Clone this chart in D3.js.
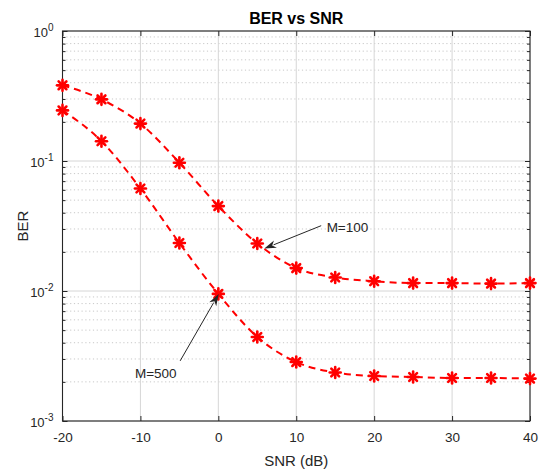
<!DOCTYPE html>
<html>
<head>
<meta charset="utf-8">
<script src="https://cdn.jsdelivr.net/npm/d3@7"></script>
<style>
  html, body { margin: 0; padding: 0; background: #fff; }
  svg { display: block; font-family: "Liberation Sans", Arial, Helvetica, sans-serif; }
</style>
</head>
<body>
<svg id="chart" width="539" height="475"></svg>
<script>
// SNR sweep (dB)
const snr = [-20, -15, -10, -5, 0, 5, 10, 15, 20, 25, 30, 35, 40];
// BER for M = 100
const berM100 = [0.382, 0.298, 0.194, 0.097, 0.045, 0.0232, 0.0150, 0.0127, 0.0119, 0.0115, 0.0115, 0.0114, 0.0115];
// BER for M = 500
const berM500 = [0.245, 0.142, 0.0614, 0.0234, 0.0095, 0.00443, 0.00284, 0.00236, 0.00222, 0.00218, 0.00214, 0.00214, 0.00212];
// Axis ticks
const xTicks = [-20, -10, 0, 10, 20, 30, 40];
const yExponents = [0, -1, -2, -3];
// Annotations: [label, text x, text y, tail x, tail y, tip x, tip y] in data units
const notes = [
  ["M=100", 13.9, 0.0309, 13.2, 0.0318, 5.9, 0.0212],
  ["M=500", -10.7, 0.00234, -4.9, 0.0029, 0.05, 0.0095]
];

const svg = d3.select("#chart");
const L = 62.5, R = 530, T = 31, B = 421;
const axisColor = "#262626";

const x = d3.scaleLinear().domain([-20, 40]).range([L, R]);
const y = d3.scaleLog().domain([1e-3, 1]).range([B, T]);

// minor grid (dotted) at 2..9 x each decade
const minorVals = [];
for (let e = -3; e < 0; e++) for (let k = 2; k <= 9; k++) minorVals.push(k * Math.pow(10, e));

const grid = svg.append("g");
grid.selectAll("line.minor").data(minorVals).join("line")
  .attr("x1", L).attr("x2", R)
  .attr("y1", d => y(d)).attr("y2", d => y(d))
  .attr("stroke", "#c8c8c8").attr("stroke-width", 1)
  .attr("stroke-dasharray", "1.2,2.6");
grid.selectAll("line.majy").data(yExponents.map(e => Math.pow(10, e))).join("line")
  .attr("x1", L).attr("x2", R)
  .attr("y1", d => y(d)).attr("y2", d => y(d))
  .attr("stroke", "#d6d6d6").attr("stroke-width", 1);
grid.selectAll("line.majx").data(xTicks).join("line")
  .attr("x1", d => x(d)).attr("x2", d => x(d))
  .attr("y1", T).attr("y2", B)
  .attr("stroke", "#d6d6d6").attr("stroke-width", 1);

// axes via d3 axis generators, ticks pointing inward
const xAxisB = d3.axisBottom(x).tickValues(xTicks).tickSizeInner(-5).tickSizeOuter(0).tickPadding(11)
  .tickFormat(d => String(d));
const xAxisT = d3.axisTop(x).tickValues(xTicks).tickSizeInner(-5).tickSizeOuter(0).tickFormat("");
const yAll = yExponents.map(e => Math.pow(10, e));
const yAxisL = d3.axisLeft(y).tickValues(yAll).tickSizeInner(-5).tickSizeOuter(0).tickFormat("");
const yAxisR = d3.axisRight(y).tickValues(yAll).tickSizeInner(-5).tickSizeOuter(0).tickFormat("");
const yMinorL = d3.axisLeft(y).tickValues(minorVals).tickSizeInner(-3).tickSizeOuter(0).tickFormat("");
const yMinorR = d3.axisRight(y).tickValues(minorVals).tickSizeInner(-3).tickSizeOuter(0).tickFormat("");

function styleAxis(g) {
  g.select(".domain").remove();
  g.selectAll("line").attr("stroke", axisColor).attr("stroke-width", 1);
  g.selectAll("text").attr("fill", axisColor).style("font-size", "13.5px")
    .style("font-family", "'Liberation Sans', Arial, sans-serif");
}
svg.append("g").attr("transform", `translate(0,${B})`).call(xAxisB).call(styleAxis);
svg.append("g").attr("transform", `translate(0,${T})`).call(xAxisT).call(styleAxis);
svg.append("g").attr("transform", `translate(${L},0)`).call(yAxisL).call(styleAxis);
svg.append("g").attr("transform", `translate(${R},0)`).call(yAxisR).call(styleAxis);
svg.append("g").attr("transform", `translate(${L},0)`).call(yMinorL).call(styleAxis);
svg.append("g").attr("transform", `translate(${R},0)`).call(yMinorR).call(styleAxis);

// y tick labels as 10^e
const ylab = svg.append("g");
yExponents.forEach(e => {
  const t = ylab.append("text")
    .attr("x", L - 9).attr("y", y(Math.pow(10, e)) + 6)
    .attr("text-anchor", "end").attr("fill", axisColor)
    .style("font-size", "13px");
  t.append("tspan").text("10");
  t.append("tspan").attr("dy", -6).style("font-size", "10px").text(String(e));
});

// box
svg.append("rect").attr("x", L).attr("y", T).attr("width", R - L).attr("height", B - T)
  .attr("fill", "none").attr("stroke", axisColor).attr("stroke-width", 1.1);

// titles
svg.append("text").attr("x", (L + R) / 2).attr("y", 23.5).attr("text-anchor", "middle")
  .attr("fill", "#000").style("font-size", "16px").style("font-weight", "bold").text("BER vs SNR");
svg.append("text").attr("x", (L + R) / 2).attr("y", 465.5).attr("text-anchor", "middle")
  .attr("fill", axisColor).style("font-size", "15px").text("SNR (dB)");
svg.append("text").attr("transform", `translate(27.5,${(T + B) / 2}) rotate(-90)`)
  .attr("text-anchor", "middle").attr("fill", axisColor).style("font-size", "15px").text("BER");

// curves
const line = d3.line().x(d => x(d[0])).y(d => y(d[1])).curve(d3.curveMonotoneX);
const series = [berM100, berM500];
const plot = svg.append("g");
series.forEach(vals => {
  const pts = snr.map((s, i) => [s, vals[i]]);
  plot.append("path").attr("d", line(pts))
    .attr("fill", "none").attr("stroke", "#ff0000").attr("stroke-width", 2)
    .attr("stroke-dasharray", "7,5");
  const r = 5.5;
  plot.selectAll(null).data(pts).join("g")
    .attr("transform", d => `translate(${x(d[0])},${y(d[1])})`)
    .each(function () {
      const g = d3.select(this);
      [0, 45, 90, 135].forEach(a => {
        const rad = a * Math.PI / 180;
        g.append("line")
          .attr("x1", -r * Math.cos(rad)).attr("y1", -r * Math.sin(rad))
          .attr("x2", r * Math.cos(rad)).attr("y2", r * Math.sin(rad))
          .attr("stroke", "#ff0000").attr("stroke-width", 2.6).attr("stroke-linecap", "round");
      });
    });
});

// annotation arrows
const ann = svg.append("g");
notes.forEach(n => {
  const [label, tx, ty, x1, y1, x2, y2] = n;
  const px1 = x(x1), py1 = y(y1), px2 = x(x2), py2 = y(y2);
  const ang = Math.atan2(py2 - py1, px2 - px1);
  const hl = 10, hw = 4;
  const bx = px2 - hl * Math.cos(ang), by = py2 - hl * Math.sin(ang);
  ann.append("line").attr("x1", px1).attr("y1", py1).attr("x2", bx).attr("y2", by)
    .attr("stroke", axisColor).attr("stroke-width", 1);
  const nx = -Math.sin(ang), ny = Math.cos(ang);
  const back = 2;
  ann.append("path")
    .attr("d", `M${px2},${py2} L${bx + nx * hw - back * Math.cos(ang)},${by + ny * hw - back * Math.sin(ang)} L${bx + 1.5 * Math.cos(ang)},${by + 1.5 * Math.sin(ang)} L${bx - nx * hw - back * Math.cos(ang)},${by - ny * hw - back * Math.sin(ang)} Z`)
    .attr("fill", axisColor);
  ann.append("text").attr("x", x(tx)).attr("y", y(ty)).attr("dy", "0.35em")
    .attr("fill", axisColor).style("font-size", "13.5px").text(label);
});
</script>
</body>
</html>
